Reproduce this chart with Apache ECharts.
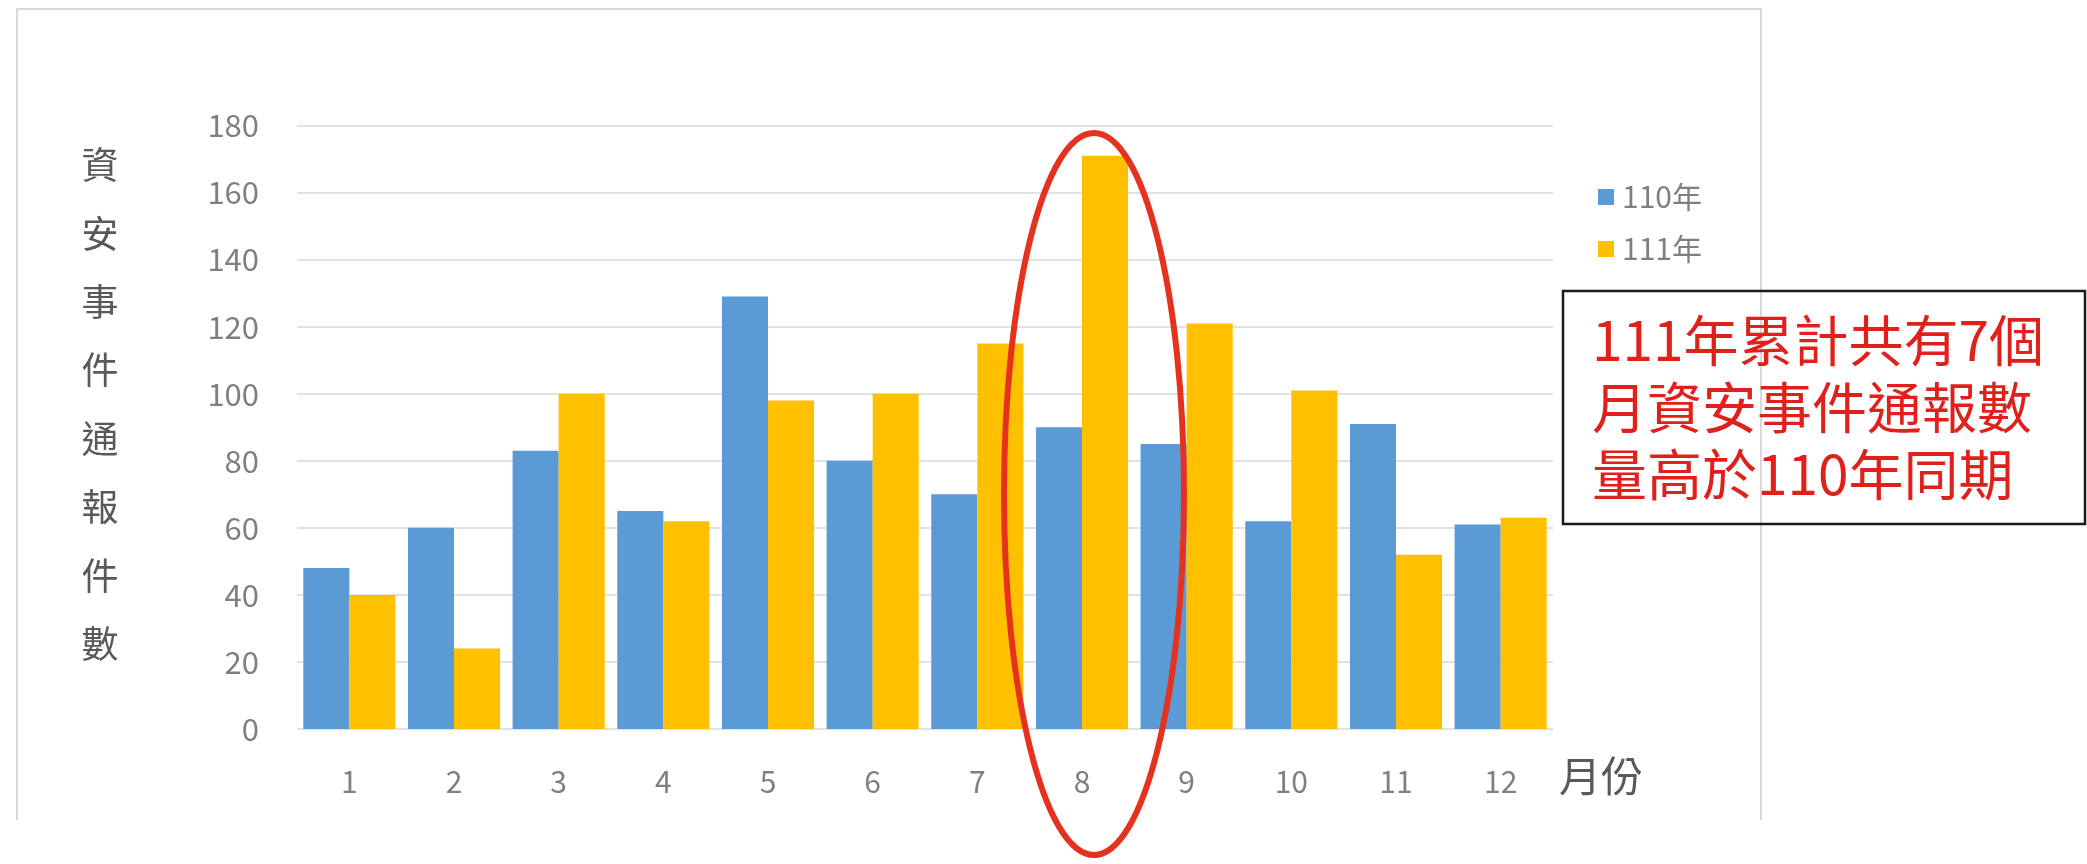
<!DOCTYPE html>
<html>
<head>
<meta charset="utf-8">
<title>資安事件通報件數</title>
<script src="https://cdn.jsdelivr.net/npm/echarts@6/dist/echarts.min.js"></script>
<style>
  html, body { margin: 0; padding: 0; background: #fff; }
  #chart { width: 2087px; height: 864px; }
</style>
</head>
<body>
<div id="chart"></div>
<script>
  // 月份
  const months = ['1', '2', '3', '4', '5', '6', '7', '8', '9', '10', '11', '12'];
  // 110年 / 111年 每月通報件數
  const y110 = [48, 60, 83, 65, 129, 80, 70, 90, 85, 62, 91, 61];
  const y111 = [40, 24, 100, 62, 98, 100, 115, 171, 121, 101, 52, 63];
  const seriesNames = ['110年', '111年'];
  const yTitle = '資安事件通報件數';
  const note = ['111年累計共有7個', '月資安事件通報數', '量高於110年同期'];

  const FONT = '"Noto Sans CJK TC", "Noto Sans", sans-serif';
  const chart = echarts.init(document.getElementById('chart'));

  const option = {
    backgroundColor: '#ffffff',
    animation: false,
    grid: {
      left: 297,
      right: 534,
      top: 125.6,
      bottom: 135,
      containLabel: false
    },
    legend: {
      orient: 'vertical',
      left: 1593,
      top: 177,
      icon: 'rect',
      itemWidth: 16,
      itemHeight: 16,
      itemGap: 22,
      data: seriesNames,
      textStyle: {
        color: '#7f7f7f',
        fontSize: 30,
        fontFamily: FONT,
        padding: [0, 0, 0, 3]
      }
    },
    xAxis: {
      type: 'category',
      data: months,
      name: '月份',
      nameLocation: 'end',
      nameGap: 6,
      nameTextStyle: {
        color: '#595959',
        fontSize: 42,
        fontFamily: FONT,
        align: 'left',
        verticalAlign: 'top',
        padding: [26, 0, 0, 0]
      },
      axisLine: { show: false },
      axisTick: { show: false },
      axisLabel: {
        color: '#7f7f7f',
        fontSize: 30,
        fontFamily: FONT,
        margin: 38
      }
    },
    yAxis: {
      type: 'value',
      min: 0,
      max: 180,
      interval: 20,
      axisLine: { show: false },
      axisTick: { show: false },
      axisLabel: {
        color: '#7f7f7f',
        fontSize: 31,
        fontFamily: FONT,
        margin: 38
      },
      splitLine: {
        lineStyle: { color: '#d9d9d9', width: 1.5 }
      }
    },
    series: [
      {
        name: seriesNames[0],
        type: 'bar',
        data: y110,
        barGap: '0%',
        barCategoryGap: '12%',
        itemStyle: { color: '#5b9bd5' }
      },
      {
        name: seriesNames[1],
        type: 'bar',
        data: y111,
        itemStyle: { color: '#ffc000' }
      }
    ],
    graphic: [
      // 外框 (左、上、右)
      {
        type: 'polyline',
        silent: true,
        shape: { points: [[17, 820], [17, 9], [1761, 9], [1761, 820]] },
        style: { stroke: '#d9d9d9', lineWidth: 2, fill: null }
      },
      // 縱軸標題
      {
        type: 'text',
        silent: true,
        style: {
          text: yTitle.split('').join('\n'),
          x: 100,
          y: 131,
          align: 'center',
          verticalAlign: 'top',
          lineHeight: 68.4,
          fontSize: 37,
          fontFamily: FONT,
          fill: '#595959'
        }
      },
      // 8月紅圈
      {
        type: 'ellipse',
        silent: true,
        z: 100,
        shape: { cx: 1094, cy: 494, rx: 90, ry: 361 },
        style: { stroke: '#e5321e', lineWidth: 6, fill: null }
      },
      // 說明框
      {
        type: 'rect',
        silent: true,
        z: 100,
        shape: { x: 1563, y: 291, width: 522, height: 233 },
        style: { stroke: '#1a1a1a', lineWidth: 2.5, fill: null }
      },
      {
        type: 'text',
        silent: true,
        z: 101,
        style: {
          text: note.join('\n'),
          x: 1592,
          y: 307,
          align: 'left',
          verticalAlign: 'top',
          lineHeight: 67,
          fontSize: 55,
          fontFamily: FONT,
          fill: '#e0201b'
        }
      }
    ]
  };

  chart.setOption(option);
</script>
</body>
</html>
